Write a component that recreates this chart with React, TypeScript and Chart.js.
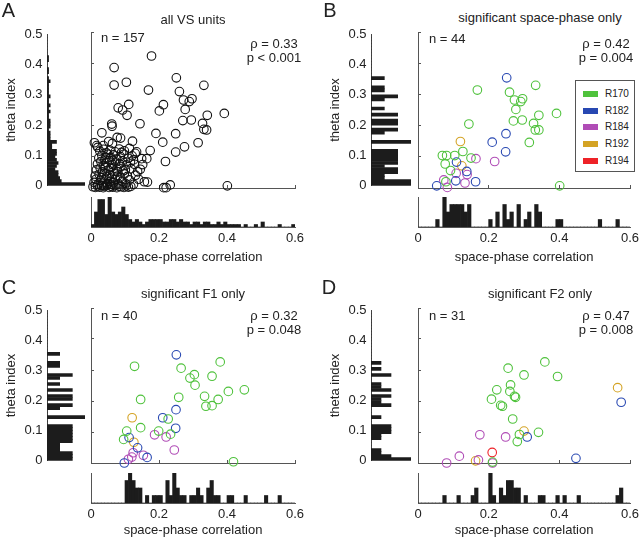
import React, { useEffect, useMemo, useRef } from "react";
import { Chart, registerables } from "chart.js";

Chart.register(...registerables);

type Pt = [number, number];

// ---------------- data ----------------
const THETA_BIN = 0.01;
const CORR_BIN = 0.01;
const CORR_TICKS = [0, 0.2, 0.4, 0.6];
const THETA_TICKS = [0, 0.1, 0.2, 0.3, 0.4, 0.5];
const RATS = ["R170", "R182", "R184", "R192", "R194"];
const RAT_COLORS = ["#4fc23c", "#2848b2", "#b04cb6", "#d4a324", "#ee2228"];

const PANEL_LETTERS = ["A", "B", "C", "D"];
const PANEL_TITLES = ["all VS units", "significant space-phase only", "significant F1 only", "significant F2 only"];
const PANEL_N = ["n = 157", "n = 44", "n = 40", "n = 31"];
const PANEL_RHO = ["\u03c1 = 0.33", "\u03c1 = 0.42", "\u03c1 = 0.32", "\u03c1 = 0.47"];
const PANEL_P = ["p < 0.001", "p = 0.004", "p = 0.048", "p = 0.008"];
const X_TITLE = "space-phase correlation";
const Y_TITLE = "theta index";

// Panel A : all VS units
const A_POINTS: Pt[] = [
  [0.178, 0.423], [0.068, 0.386], [0.068, 0.33], [0.104, 0.339], [0.251, 0.353], [0.332, 0.329],
  [0.169, 0.314], [0.26, 0.309], [0.272, 0.282], [0.297, 0.286], [0.289, 0.277], [0.213, 0.267],
  [0.201, 0.247], [0.277, 0.252], [0.111, 0.268], [0.08, 0.257], [0.093, 0.25], [0.106, 0.233],
  [0.342, 0.233], [0.392, 0.239], [0.27, 0.216], [0.295, 0.218], [0.144, 0.206], [0.061, 0.205],
  [0.062, 0.198], [0.328, 0.207], [0.332, 0.188], [0.34, 0.186], [0.032, 0.177], [0.191, 0.175],
  [0.249, 0.174], [0.077, 0.162], [0.087, 0.16], [0.01, 0.145], [0.017, 0.136], [0.122, 0.15],
  [0.211, 0.147], [0.315, 0.145], [0.275, 0.132], [0.036, 0.136], [0.052, 0.149], [0.063, 0.143],
  [0.174, 0.12], [0.249, 0.115], [0.134, 0.116], [0.149, 0.094], [0.164, 0.094], [0.219, 0.085],
  [0.157, 0.02], [0.166, 0.019], [0.214, 0.001], [0.221, 0.001], [0.233, 0.01], [0.401, 0.007],
  [0.006, 0.004], [0.013, 0.002], [0.019, 0.007], [0.025, 0.003], [0.031, 0.008], [0.036, 0.001],
  [0.041, 0.005], [0.047, 0.009], [0.053, 0.002], [0.058, 0.006], [0.064, 0.003], [0.07, 0.008],
  [0.076, 0.001], [0.083, 0.005], [0.089, 0.004], [0.097, 0.002], [0.104, 0.007], [0.11, 0.003],
  [0.117, 0.005],
  [0.009, 0.018], [0.021, 0.012], [0.028, 0.024], [0.035, 0.016], [0.044, 0.027], [0.049, 0.014],
  [0.056, 0.021], [0.066, 0.017], [0.072, 0.028], [0.081, 0.013], [0.092, 0.022], [0.101, 0.015],
  [0.113, 0.026], [0.125, 0.012], [0.14, 0.028],
  [0.012, 0.038], [0.024, 0.044], [0.031, 0.033], [0.039, 0.048], [0.046, 0.036], [0.054, 0.042],
  [0.061, 0.031], [0.069, 0.046], [0.078, 0.038], [0.087, 0.034], [0.098, 0.045], [0.107, 0.037],
  [0.131, 0.041],
  [0.016, 0.058], [0.027, 0.064], [0.034, 0.052], [0.042, 0.068], [0.051, 0.057], [0.059, 0.066],
  [0.067, 0.053], [0.076, 0.061], [0.088, 0.069], [0.095, 0.055], [0.118, 0.062], [0.137, 0.052],
  [0.019, 0.077], [0.029, 0.085], [0.038, 0.072], [0.047, 0.081], [0.055, 0.088], [0.064, 0.075],
  [0.073, 0.083], [0.084, 0.078], [0.093, 0.087], [0.104, 0.074], [0.116, 0.083], [0.128, 0.076],
  [0.023, 0.096], [0.032, 0.104], [0.041, 0.092], [0.05, 0.108], [0.058, 0.098], [0.066, 0.106],
  [0.075, 0.093], [0.086, 0.101], [0.097, 0.108], [0.109, 0.095], [0.121, 0.103], [0.13, 0.111],
  [0.026, 0.118], [0.037, 0.124], [0.045, 0.113], [0.056, 0.121], [0.071, 0.116], [0.083, 0.125],
  [0.098, 0.119], [0.113, 0.127],
  [0.015, 0.028], [0.037, 0.008], [0.061, 0.011], [0.079, 0.052], [0.101, 0.058], [0.044, 0.098],
  [0.062, 0.089], [0.09, 0.114], [0.125, 0.09], [0.145, 0.06], [0.152, 0.075], [0.02, 0.13],
];
const A_THETA_HIST = [
  24, 9, 8, 7, 7, 5, 6, 7, 6, 5, 6, 6, 3, 3, 6, 2, 2, 2, 1, 2, 2, 2, 1, 1, 2,
  1, 2, 1, 1, 2, 1, 1, 1, 1, 2, 1, 0, 1, 1, 0, 0, 1, 1, 0, 0, 0, 0, 0, 0, 0,
];
const A_CORR_HIST = [
  1, 6, 11, 11, 5, 12, 6, 5, 6, 8, 5, 3, 2, 3, 2, 1, 2, 3, 3, 3,
  3, 2, 2, 3, 3, 2, 3, 2, 2, 1, 2, 2, 1, 2, 2, 1, 1, 2, 1, 2,
  1, 1, 1, 1, 0, 1, 0, 0, 1, 0, 2, 0, 0, 0, 0, 1, 0, 0, 0, 1,
];

// Panel B : significant space-phase only
const B_R170: Pt[] = [
  [0.168, 0.314], [0.259, 0.307], [0.333, 0.329], [0.273, 0.282], [0.296, 0.286], [0.291, 0.277],
  [0.277, 0.252], [0.27, 0.215], [0.295, 0.218], [0.342, 0.233], [0.392, 0.239], [0.327, 0.207],
  [0.332, 0.186], [0.342, 0.186], [0.315, 0.146], [0.144, 0.205], [0.127, 0.117], [0.15, 0.096],
  [0.069, 0.104], [0.081, 0.104], [0.104, 0.104], [0.077, 0.077], [0.092, 0.056], [0.401, 0.007],
  [0.079, 0.02],
];
const B_R182: Pt[] = [
  [0.251, 0.353], [0.249, 0.174], [0.21, 0.147], [0.248, 0.116], [0.109, 0.083], [0.138, 0.053],
  [0.053, 0.007], [0.107, 0.023], [0.163, 0.02],
];
const B_R184: Pt[] = [
  [0.164, 0.094], [0.217, 0.085], [0.108, 0.047], [0.139, 0.043], [0.073, 0.026], [0.083, 0.002],
  [0.133, 0.016],
];
const B_R192: Pt[] = [[0.12, 0.149], [0.124, 0.071]];
const B_R194: Pt[] = [];
const B_THETA_HIST = [
  3, 3, 1, 1, 2, 2, 1, 2, 2, 2, 2, 2, 0, 0, 3, 0, 0, 1, 2, 0, 2, 2, 0, 2, 0,
  1, 0, 0, 1, 2, 0, 1, 1, 0, 0, 1, 0, 0, 0, 0, 0, 0, 0, 0, 0, 0, 0, 0, 0, 0,
];
const B_CORR_HIST = [
  0, 0, 0, 0, 0, 1, 0, 4, 2, 3, 3, 3, 3, 2, 3, 0, 0, 0, 0, 0,
  1, 0, 2, 0, 3, 1, 2, 0, 3, 0, 1, 2, 0, 3, 2, 0, 0, 0, 0, 1,
  1, 0, 0, 0, 0, 0, 0, 0, 0, 0, 0, 1, 0, 0, 0, 0, 1, 0, 0, 0,
];

// Panel C : significant F1 only
const C_R170: Pt[] = [
  [0.128, 0.312], [0.265, 0.306], [0.38, 0.326], [0.291, 0.274], [0.304, 0.285], [0.306, 0.251],
  [0.356, 0.28], [0.451, 0.236], [0.404, 0.231], [0.334, 0.215], [0.374, 0.205], [0.338, 0.183],
  [0.356, 0.185], [0.258, 0.212], [0.146, 0.205], [0.227, 0.142], [0.146, 0.114], [0.105, 0.103],
  [0.199, 0.103], [0.234, 0.093], [0.096, 0.076], [0.419, 0.004],
];
const C_R182: Pt[] = [
  [0.251, 0.349], [0.211, 0.146], [0.25, 0.172], [0.249, 0.112], [0.112, 0.082], [0.137, 0.049],
  [0.165, 0.018], [0.098, 0.0],
];
const C_R184: Pt[] = [
  [0.187, 0.091], [0.221, 0.084], [0.245, 0.042], [0.124, 0.033], [0.12, 0.019], [0.154, 0.025],
  [0.11, 0.012],
];
const C_R192: Pt[] = [[0.121, 0.146], [0.126, 0.067]];
const C_R194: Pt[] = [];
const C_THETA_HIST = [
  2, 2, 2, 1, 1, 1, 2, 2, 2, 2, 2, 2, 0, 0, 3, 0, 0, 1, 2, 0, 2, 2, 0, 2, 0,
  1, 0, 1, 2, 0, 0, 1, 1, 0, 0, 1, 0, 0, 0, 0, 0, 0, 0, 0, 0, 0, 0, 0, 0, 0,
];
const C_CORR_HIST = [
  0, 0, 0, 0, 0, 0, 0, 0, 0, 0, 3, 4, 3, 2, 2, 0, 1, 0, 1, 1,
  1, 0, 3, 1, 4, 2, 1, 1, 0, 1, 1, 2, 1, 0, 2, 3, 1, 1, 0, 0,
  1, 1, 0, 0, 0, 1, 0, 0, 0, 0, 0, 1, 0, 0, 0, 1, 0, 0, 0, 0,
];

// Panel D : significant F2 only
const D_R170: Pt[] = [
  [0.359, 0.326], [0.255, 0.306], [0.3, 0.284], [0.395, 0.279], [0.262, 0.252], [0.223, 0.236],
  [0.26, 0.231], [0.273, 0.215], [0.276, 0.212], [0.208, 0.206], [0.234, 0.186], [0.239, 0.183],
  [0.268, 0.142], [0.341, 0.099], [0.287, 0.092], [0.281, 0.069], [0.211, 0.003],
];
const D_R182: Pt[] = [[0.575, 0.196], [0.309, 0.084], [0.447, 0.015]];
const D_R184: Pt[] = [
  [0.175, 0.091], [0.248, 0.084], [0.081, 0.0], [0.117, 0.022], [0.171, 0.01], [0.211, 0.0],
];
const D_R192: Pt[] = [[0.565, 0.243], [0.3, 0.103], [0.163, 0.007]];
const D_R194: Pt[] = [[0.21, 0.034]];
const D_THETA_HIST = [
  4, 2, 1, 1, 0, 0, 0, 1, 1, 2, 2, 2, 0, 0, 1, 0, 0, 0, 2, 1, 1, 2, 0, 2, 1,
  1, 0, 0, 2, 0, 1, 0, 1, 0, 0, 0, 0, 0, 0, 0, 0, 0, 0, 0, 0, 0, 0, 0, 0, 0,
];
const D_CORR_HIST = [
  0, 0, 0, 0, 0, 0, 0, 1, 0, 0, 0, 1, 0, 0, 0, 1, 2, 0, 0, 0,
  4, 1, 0, 2, 1, 3, 3, 2, 2, 0, 1, 0, 0, 0, 1, 1, 0, 0, 0, 1,
  0, 1, 0, 0, 0, 1, 0, 0, 0, 0, 0, 0, 0, 0, 0, 0, 1, 2, 0, 0,
];

// ---------------- styling / layout ----------------
const FONT = '"Liberation Sans", Arial, Helvetica, sans-serif';
const TEXT = "#222";
const AXIS = "#555";
const BAR = "#1c1c1c";
const BLACK_PT = "#111";

Chart.defaults.font.family = FONT;
Chart.defaults.font.size = 13;
Chart.defaults.color = TEXT;

const COLS = [
  { hx: 47, hw: 38, sx0: 91, sx1: 295, statX: 274, nX: 101 },
  { hx: 371, hw: 40, sx0: 418, sx1: 630, statX: 606, nX: 429 },
];
const ROWS = [
  { y1: 32, y0: 188, b1: 197, b0: 227, xTitleY: 257, tickY: 238 },
  { y1: 308, y0: 463, b1: 473, b0: 503, xTitleY: 530, tickY: 514 },
];
const PANEL_POS = [
  { c: 0, r: 0, letter: [8.5, 10], title: [193, 19], n: 37, rho: 43, p: 57 },
  { c: 1, r: 0, letter: [330, 10], title: [540, 17], n: 38, rho: 43, p: 57 },
  { c: 0, r: 1, letter: [9, 287], title: [193, 293], n: 315, rho: 315, p: 329 },
  { c: 1, r: 1, letter: [329, 287], title: [540, 293], n: 315, rho: 315, p: 329 },
];

const fmt = (v: any) => {
  const n = Number(v);
  return Math.abs(n) < 1e-9 ? "0" : n.toFixed(1);
};

const baseOpts = {
  animation: false as const,
  responsive: false,
  devicePixelRatio: 1,
  events: [] as any[],
};

function scatterConfig(groups: { pts: Pt[]; color: string }[], pad: number) {
  const inwardGrid = { display: true, drawOnChartArea: false, drawTicks: true, tickLength: -3, color: AXIS, lineWidth: 1 };
  return {
    type: "scatter",
    data: {
      datasets: groups.map((g) => ({
        data: g.pts.map(([x, y]) => ({ x, y })),
        borderColor: g.color,
        backgroundColor: "rgba(0,0,0,0)",
        pointRadius: 4.3,
        pointHoverRadius: 4.3,
        pointBorderWidth: 1.1,
        clip: false,
      })),
    },
    options: {
      ...baseOpts,
      layout: { padding: pad },
      plugins: { legend: { display: false }, tooltip: { enabled: false } },
      scales: {
        x: {
          type: "linear", min: 0, max: 0.6,
          afterBuildTicks: (s: any) => { s.ticks = CORR_TICKS.map((v) => ({ value: v })); },
          ticks: { display: false },
          grid: inwardGrid,
          border: { display: true, color: AXIS, width: 1 },
          afterFit: (s: any) => { s.height = 0; },
        },
        y: {
          type: "linear", min: 0, max: 0.5,
          afterBuildTicks: (s: any) => { s.ticks = THETA_TICKS.map((v) => ({ value: v })); },
          ticks: { display: false },
          grid: inwardGrid,
          border: { display: true, color: AXIS, width: 1 },
          afterFit: (s: any) => { s.width = 0; },
        },
      },
    },
  };
}

function corrHistConfig(counts: number[], padX: number, padT: number, axisH: number, titlePadB: number, tickPad: number) {
  const maxC = Math.max(...counts);
  return {
    type: "bar",
    data: {
      datasets: [{
        data: counts.map((c, i) => ({ x: (i + 0.5) * CORR_BIN, y: c })),
        backgroundColor: BAR, borderWidth: 0, barPercentage: 1, categoryPercentage: 1,
      }],
    },
    options: {
      ...baseOpts,
      layout: { padding: { left: padX, right: padX, top: padT, bottom: 0 } },
      plugins: { legend: { display: false }, tooltip: { enabled: false } },
      scales: {
        x: {
          type: "linear", min: 0, max: 0.6, offset: false,
          afterBuildTicks: (s: any) => { s.ticks = CORR_TICKS.map((v) => ({ value: v })); },
          ticks: { display: true, padding: tickPad, color: TEXT, font: { size: 13 }, maxRotation: 0, autoSkip: false, callback: fmt },
          grid: { display: false, drawTicks: false, offset: false },
          border: { display: true, color: AXIS, width: 1 },
          title: { display: true, text: X_TITLE, color: TEXT, font: { size: 13 }, padding: { top: 0, bottom: titlePadB } },
          afterFit: (s: any) => { s.height = axisH; },
        },
        y: {
          type: "linear", min: 0, max: maxC,
          ticks: { display: false },
          grid: { display: false, drawTicks: false },
          border: { display: true, color: AXIS, width: 1 },
          afterFit: (s: any) => { s.width = 0; },
        },
      },
    },
  };
}

function thetaHistConfig(counts: number[], xmax: number, padY: number, axisW: number) {
  return {
    type: "bar",
    data: {
      datasets: [{
        data: counts.map((c, i) => ({ x: c, y: (i + 0.5) * THETA_BIN })),
        backgroundColor: BAR, borderWidth: 0, barPercentage: 1, categoryPercentage: 1,
      }],
    },
    options: {
      ...baseOpts,
      indexAxis: "y",
      layout: { padding: { left: 0, right: 0, top: padY, bottom: padY } },
      plugins: { legend: { display: false }, tooltip: { enabled: false } },
      scales: {
        y: {
          type: "linear", min: 0, max: 0.5, offset: false,
          afterBuildTicks: (s: any) => { s.ticks = THETA_TICKS.map((v) => ({ value: v })); },
          ticks: { display: true, padding: 4.5, color: TEXT, font: { size: 13 }, autoSkip: false, callback: fmt },
          grid: { display: false, drawTicks: false, offset: false },
          border: { display: true, color: AXIS, width: 1 },
          title: { display: true, text: Y_TITLE, color: TEXT, font: { size: 13 }, padding: { top: 4, bottom: 0 } },
          afterFit: (s: any) => { s.width = axisW; },
        },
        x: { type: "linear", min: 0, max: xmax, display: false },
      },
    },
  };
}

interface CanvasSpec { key: string; left: number; top: number; width: number; height: number; config: any }

function buildSpecs(): CanvasSpec[] {
  const specs: CanvasSpec[] = [];
  const scatterGroups: { pts: Pt[]; color: string }[][] = [
    [{ pts: A_POINTS, color: BLACK_PT }],
    [B_R170, B_R182, B_R184, B_R192, B_R194].map((pts, i) => ({ pts, color: RAT_COLORS[i] })),
    [C_R170, C_R182, C_R184, C_R192, C_R194].map((pts, i) => ({ pts, color: RAT_COLORS[i] })),
    [D_R170, D_R182, D_R184, D_R192, D_R194].map((pts, i) => ({ pts, color: RAT_COLORS[i] })),
  ];
  const thetaHists = [A_THETA_HIST, B_THETA_HIST, C_THETA_HIST, D_THETA_HIST];
  const thetaMax = [24, 3, 3, 4];
  const corrHists = [A_CORR_HIST, B_CORR_HIST, C_CORR_HIST, D_CORR_HIST];

  PANEL_POS.forEach((p, k) => {
    const col = COLS[p.c];
    const row = ROWS[p.r];
    // scatter
    const sp = 7;
    specs.push({
      key: `sc${k}`,
      left: col.sx0 - sp, top: row.y1 - sp,
      width: col.sx1 - col.sx0 + 2 * sp, height: row.y0 - row.y1 + 2 * sp,
      config: scatterConfig(scatterGroups[k], sp),
    });
    // left histogram
    const axisW = 47;
    const ly = 10;
    specs.push({
      key: `th${k}`,
      left: col.hx - axisW, top: row.y1 - ly,
      width: axisW + col.hw, height: row.y0 - row.y1 + 2 * ly,
      config: thetaHistConfig(thetaHists[k], thetaMax[k], ly, axisW),
    });
    // bottom histogram
    const bx = 14;
    const bt = 2;
    const axisH = 42;
    const lh = 13 * 1.2;
    const titlePadB = row.b0 + axisH - lh / 2 - row.xTitleY;
    const tickPad = row.tickY - row.b0 - lh / 2;
    specs.push({
      key: `ch${k}`,
      left: col.sx0 - bx, top: row.b1 - bt,
      width: col.sx1 - col.sx0 + 2 * bx, height: row.b0 - row.b1 + bt + axisH,
      config: corrHistConfig(corrHists[k], bx, bt, axisH, titlePadB, tickPad),
    });
  });
  return specs;
}

const Txt = ({ x, y, align = "left", size = 13, children }: { x: number; y: number; align?: string; size?: number; children: any }) => (
  <div
    style={{
      position: "absolute", left: x, top: y,
      transform: `translate(${align === "left" ? "0" : align === "center" ? "-50%" : "-100%"}, -50%)`,
      fontSize: size, lineHeight: 1, whiteSpace: "nowrap", color: TEXT,
    }}
  >
    {children}
  </div>
);

export default function App() {
  const specs = useMemo(buildSpecs, []);
  const refs = useRef<(HTMLCanvasElement | null)[]>([]);

  useEffect(() => {
    const charts = specs.map((s, i) => new Chart(refs.current[i] as HTMLCanvasElement, s.config));
    return () => charts.forEach((c) => c.destroy());
  }, [specs]);

  return (
    <div style={{ position: "absolute", left: 0, top: 0, width: 640, height: 538, background: "#fff", overflow: "hidden", fontFamily: FONT }}>
      {specs.map((s, i) => (
        <canvas
          key={s.key}
          ref={(el) => { refs.current[i] = el; }}
          width={s.width}
          height={s.height}
          style={{ position: "absolute", left: s.left, top: s.top, width: s.width, height: s.height }}
        />
      ))}
      {PANEL_POS.map((p, k) => {
        const col = COLS[p.c];
        return (
          <React.Fragment key={`t${k}`}>
            <Txt x={p.letter[0]} y={p.letter[1]} align="center" size={20}>{PANEL_LETTERS[k]}</Txt>
            <Txt x={p.title[0]} y={p.title[1]} align="center">{PANEL_TITLES[k]}</Txt>
            <Txt x={col.nX} y={p.n}>{PANEL_N[k]}</Txt>
            <Txt x={col.statX} y={p.rho} align="center">{PANEL_RHO[k]}</Txt>
            <Txt x={col.statX} y={p.p} align="center">{PANEL_P[k]}</Txt>
          </React.Fragment>
        );
      })}
      <div style={{ position: "absolute", left: 575, top: 80, width: 60, height: 92, border: "1px solid #555", boxSizing: "border-box", background: "#fff" }}>
        {RATS.map((r, i) => (
          <React.Fragment key={r}>
            <div style={{ position: "absolute", left: 7, top: 13 + i * 16.7 - 3, width: 15, height: 6, background: RAT_COLORS[i] }} />
            <div style={{ position: "absolute", left: 29, top: 13 + i * 16.7, transform: "translateY(-50%)", fontSize: 10, lineHeight: 1, color: TEXT, whiteSpace: "nowrap" }}>{r}</div>
          </React.Fragment>
        ))}
      </div>
    </div>
  );
}
